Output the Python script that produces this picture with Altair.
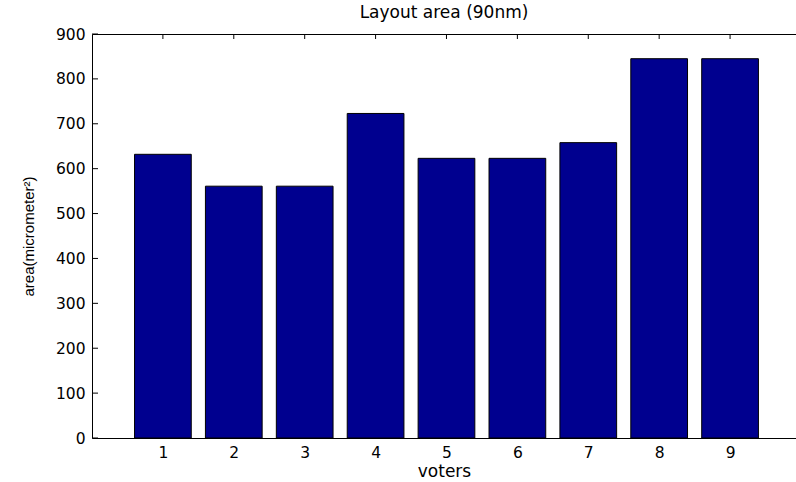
import altair as alt
import pandas as pd

# Data
voters = [1, 2, 3, 4, 5, 6, 7, 8, 9]
area = [632, 561, 561, 723, 623, 623, 658, 845, 845]
y_tick_values = [0, 100, 200, 300, 400, 500, 600, 700, 800, 900]
x_tick_values = [1, 2, 3, 4, 5, 6, 7, 8, 9]

bars_df = pd.DataFrame({"voters": voters, "area": area})
xtick_df = pd.DataFrame({"voters": x_tick_values})
ytick_df = pd.DataFrame({"area": y_tick_values})

W, H = 704, 404
x_scale = alt.Scale(domain=[0, 9.93], nice=False, zero=False)
y_scale = alt.Scale(domain=[0, 900], nice=False)

y_axis = alt.Axis(
    orient="left", values=y_tick_values, title="area(micrometer²)",
    ticks=False, tickSize=0, grid=False, labelPadding=7,
    labelFont="DejaVu Sans", labelFontSize=15.5, labelColor="black",
    titleFont="Liberation Sans", titleFontSize=15, titleFontWeight="normal",
    titleColor="black", titleAngle=270, titleAlign="center",
    titleBaseline="alphabetic", titleX=-59, titleY=202,
    domainColor="black", domainWidth=1)

bars = alt.Chart(bars_df).transform_calculate(
    x0="datum.voters - 0.4", x1="datum.voters + 0.4"
).mark_bar(color="#00008F", stroke="black", strokeWidth=1).encode(
    x=alt.X("x0:Q", scale=x_scale, axis=alt.Axis(
        orient="bottom", values=x_tick_values, title="voters",
        ticks=False, tickSize=0, grid=False, labelPadding=19,
        labelBaseline="alphabetic", labelOverlap=False,
        labelFont="DejaVu Sans", labelFontSize=15.5, labelColor="black",
        titleFont="DejaVu Sans", titleFontSize=17, titleFontWeight="normal",
        titleColor="black", titleBaseline="alphabetic", titleY=38.7,
        domainColor="black", domainWidth=1)),
    x2="x1:Q",
    y=alt.Y("area:Q", scale=y_scale, axis=y_axis),
    y2=alt.datum(0),
)

top_ticks = alt.Chart(xtick_df).mark_rule(color="black", strokeWidth=1).encode(
    x=alt.X("voters:Q", scale=x_scale, axis=alt.Axis(
        orient="top", labels=False, ticks=False, tickSize=0, title=None,
        grid=False, domain=True, domainColor="black", domainWidth=1)),
    y=alt.value(0),
    y2=alt.value(5),
)

left_ticks = alt.Chart(ytick_df).mark_rule(color="black", strokeWidth=1).encode(
    y=alt.Y("area:Q", scale=y_scale, axis=y_axis),
    x=alt.value(0),
    x2=alt.value(6),
)

chart = alt.layer(bars, top_ticks, left_ticks).properties(
    width=W, height=H,
    title=alt.Title("Layout area (90nm)", font="DejaVu Sans", fontSize=17,
                    fontWeight="normal", color="black", anchor="middle",
                    baseline="alphabetic", offset=10, dy=17.5),
    autosize=alt.AutoSizeParams(type="none"),
    padding={"left": 92, "top": 34, "right": 0, "bottom": 44},
).configure_view(stroke=None).configure(background="white")

chart.save("out.html", embed_options={"renderer": "svg", "actions": False})
